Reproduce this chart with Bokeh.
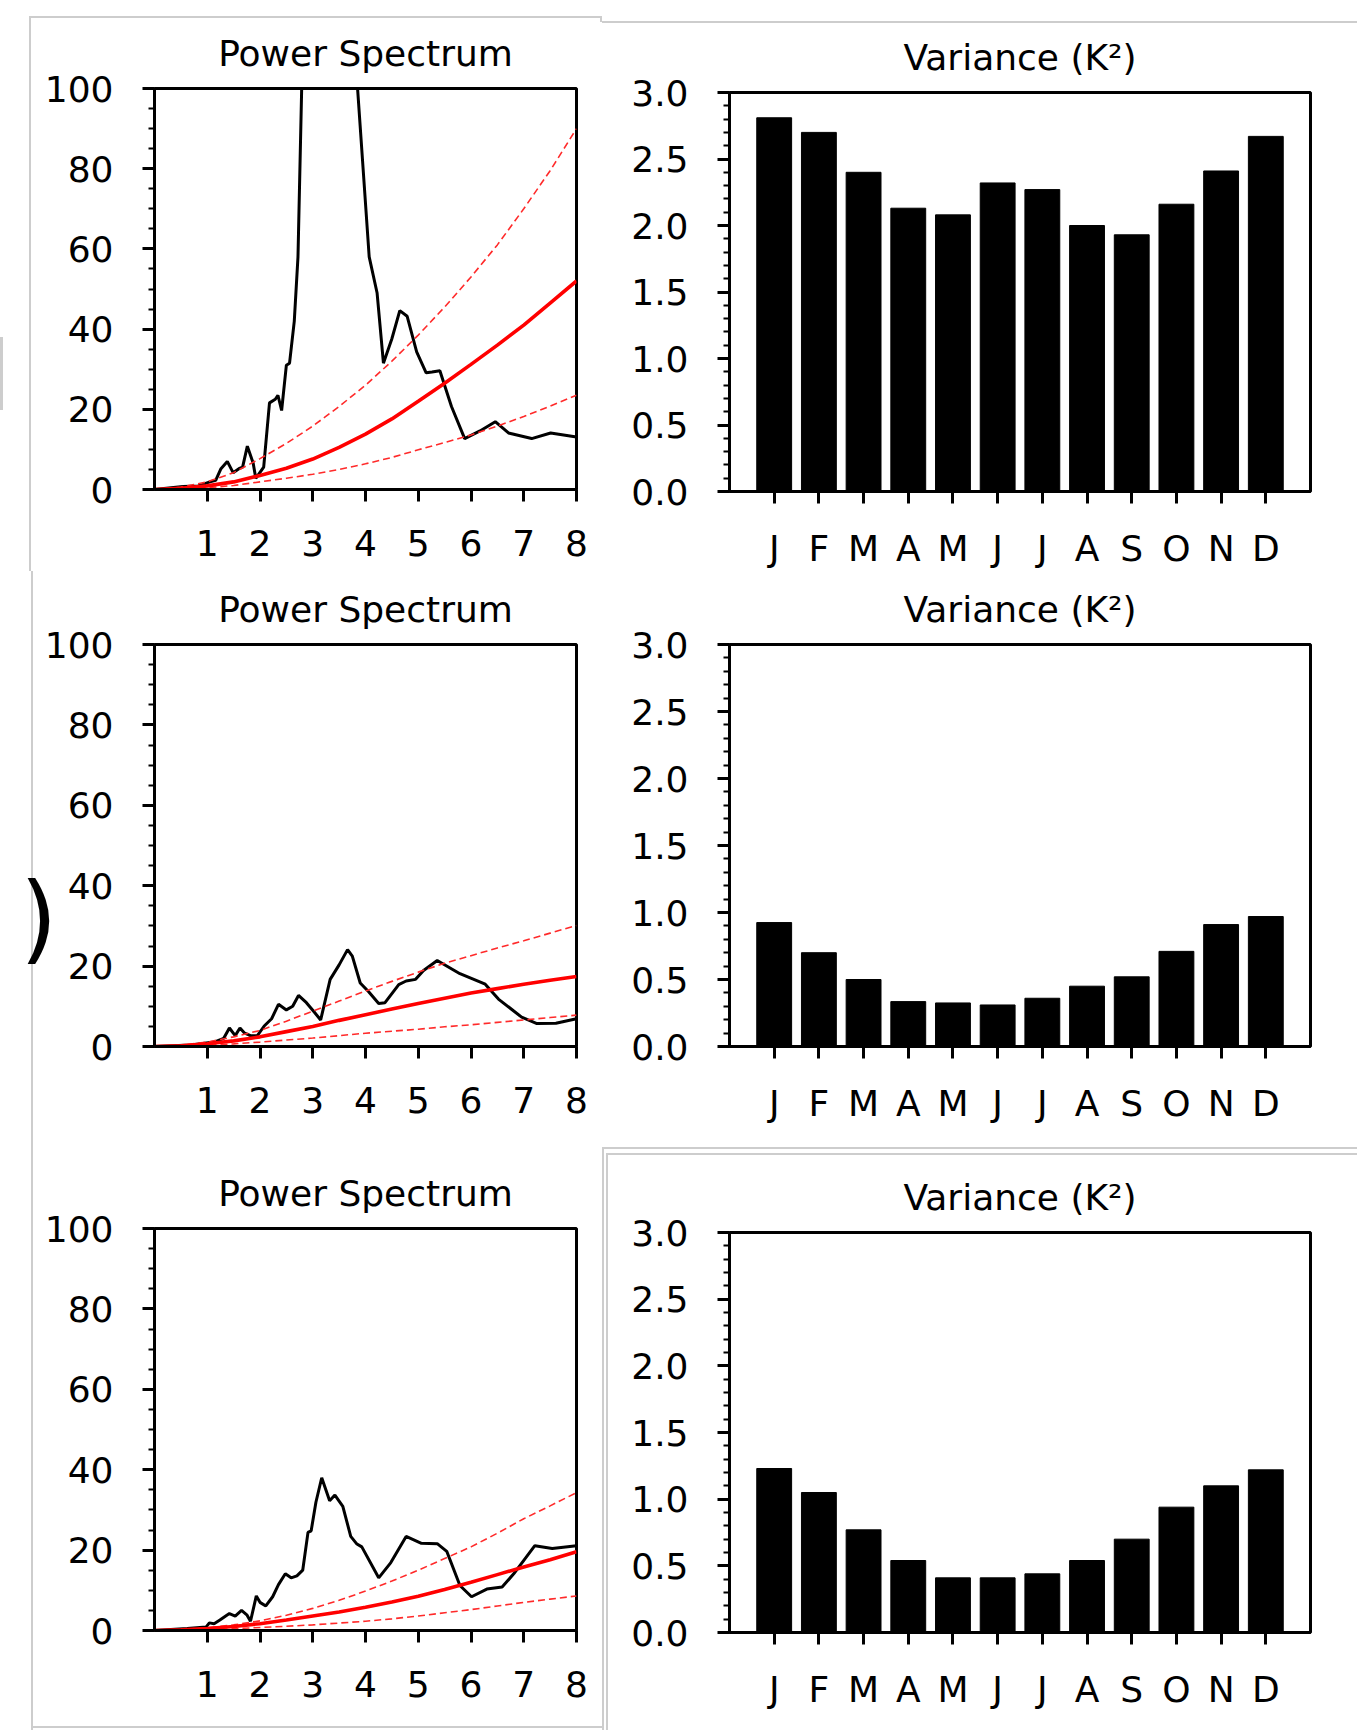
from bokeh.plotting import figure
from bokeh.layouts import column, row
from bokeh.models import Range1d, FixedTicker, NumeralTickFormatter, LinearAxis
from bokeh.embed import file_html
from bokeh.resources import INLINE

FONT = "DejaVu Sans"

# ---------------- data ----------------
months = ["J", "F", "M", "A", "M", "J", "J", "A", "S", "O", "N", "D"]
month_pos = [1, 2, 3, 4, 5, 6, 7, 8, 9, 10, 11, 12]
var_top = [2.81, 2.70, 2.40, 2.13, 2.08, 2.32, 2.27, 2.00, 1.93, 2.16, 2.41, 2.67]
var_mid = [0.925, 0.70, 0.50, 0.335, 0.325, 0.31, 0.36, 0.45, 0.52, 0.71, 0.91, 0.97]
var_bot = [1.23, 1.05, 0.77, 0.54, 0.41, 0.41, 0.44, 0.54, 0.70, 0.94, 1.10, 1.22]

# red-noise reference curves (x positions shared)
curve_x = [0, 0.5, 1, 1.5, 2, 2.5, 3, 3.5, 4, 4.5, 5, 5.5, 6, 6.5, 7, 7.5, 8]
mid_top = [0, 0.3, 0.9, 1.9, 3.5, 5.3, 7.6, 10.5, 13.8, 17.6, 22.0, 26.5, 31.2, 36.0, 41.0, 46.5, 52.0]
up_top = [0, 0.6, 1.9, 4.2, 7.7, 11.5, 15.8, 20.7, 26.0, 32.0, 38.5, 45.5, 53.0, 61.0, 70.0, 79.5, 90.0]
lo_top = [0, 0.15, 0.45, 1.0, 1.9, 2.8, 3.8, 5.0, 6.4, 8.0, 9.9, 11.7, 13.6, 15.8, 18.2, 20.8, 23.5]

mid_mid = [0, 0.2, 0.7, 1.4, 2.4, 3.7, 5.0, 6.5, 7.9, 9.3, 10.7, 12.0, 13.3, 14.4, 15.5, 16.5, 17.4]
up_mid = [0, 0.3, 1.1, 2.4, 4.0, 6.3, 8.8, 11.3, 13.8, 16.2, 18.5, 20.7, 22.6, 24.5, 26.3, 28.2, 30.1]
lo_mid = [0, 0.1, 0.3, 0.65, 1.1, 1.6, 2.1, 2.7, 3.3, 3.8, 4.3, 4.9, 5.4, 6.0, 6.6, 7.2, 7.8]

mid_bot = [0, 0.15, 0.5, 1.0, 1.7, 2.6, 3.6, 4.6, 5.8, 7.1, 8.5, 10.2, 12.0, 13.9, 15.8, 17.6, 19.6]
up_bot = [0, 0.2, 0.7, 1.4, 2.4, 3.8, 5.5, 7.5, 9.8, 12.3, 15.0, 17.9, 20.8, 24.2, 27.8, 31.0, 34.3]
lo_bot = [0, 0.05, 0.2, 0.45, 0.75, 1.05, 1.4, 1.85, 2.3, 2.9, 3.6, 4.4, 5.2, 6.1, 7.0, 7.8, 8.6]

# power spectra (black)
spec_top_x = [0, 0.54, 0.83, 1.05, 1.16, 1.26, 1.38, 1.49, 1.60, 1.67, 1.76, 1.87, 1.92, 2.07, 2.18,
              2.29, 2.34, 2.41, 2.50, 2.56, 2.65, 2.72, 2.85, 3.3, 3.75, 4.07, 4.22, 4.34, 4.50,
              4.65, 4.79, 4.97, 5.15, 5.26, 5.41, 5.63, 5.88, 6.17, 6.46, 6.71, 7.15, 7.51, 8.0]
spec_top_y = [0, 0.75, 0.9, 1.9, 2.3, 5.2, 7.0, 4.2, 5.2, 5.6, 10.8, 6.6, 2.8, 5.6, 21.6,
              22.5, 23.5, 19.7, 31.0, 31.5, 42.0, 58.0, 136.0, 190.0, 119.0, 58.0, 49.0, 31.5, 37.6,
              44.6, 43.2, 34.3, 29.1, 29.3, 29.6, 20.7, 12.7, 14.6, 16.9, 14.1, 12.7, 14.1, 13.1]

spec_mid_x = [0, 0.69, 1.13, 1.31, 1.42, 1.53, 1.62, 1.71, 1.82, 1.95, 2.08, 2.22, 2.35, 2.50,
              2.62, 2.73, 2.88, 3.02, 3.15, 3.33, 3.50, 3.66, 3.75, 3.90, 4.06, 4.25, 4.37, 4.63,
              4.77, 4.95, 5.10, 5.36, 5.79, 6.27, 6.52, 6.96, 7.25, 7.61, 8.0]
spec_mid_y = [0, 0.4, 1.1, 2.0, 4.6, 2.7, 4.6, 3.3, 2.7, 2.7, 5.1, 6.9, 10.5, 9.1,
              10.0, 12.7, 10.9, 8.7, 6.6, 16.7, 20.3, 24.1, 22.5, 15.8, 13.6, 10.7, 10.9, 15.4,
              16.3, 16.7, 18.9, 21.4, 18.1, 15.5, 11.8, 7.3, 5.7, 5.8, 6.9]

spec_bot_x = [0, 0.62, 0.98, 1.04, 1.13, 1.24, 1.35, 1.42, 1.53, 1.65, 1.75, 1.82, 1.93, 2.00,
              2.11, 2.24, 2.35, 2.48, 2.59, 2.70, 2.81, 2.91, 2.97, 3.06, 3.17, 3.32, 3.42, 3.57,
              3.72, 3.83, 3.93, 4.25, 4.48, 4.77, 5.06, 5.36, 5.54, 5.79, 6.01, 6.30, 6.59, 6.81,
              7.21, 7.54, 8.0]
spec_bot_y = [0, 0.5, 0.9, 1.9, 1.7, 2.6, 3.6, 4.2, 3.6, 5.0, 3.9, 2.3, 8.6, 7.0,
              6.1, 8.4, 11.4, 14.1, 13.1, 13.6, 15.0, 24.4, 24.8, 31.9, 38.0, 32.3, 33.7, 30.9,
              23.4, 21.6, 20.8, 13.1, 16.9, 23.4, 21.7, 21.6, 19.7, 11.2, 8.4, 10.3, 10.8, 14.1,
              21.1, 20.4, 21.1]

spec_ticks = [1, 2, 3, 4, 5, 6, 7, 8]
spec_yticks = [0, 20, 40, 60, 80, 100]
var_yticks = [0.0, 0.5, 1.0, 1.5, 2.0, 2.5, 3.0]

GRAY = "#cdcdcd"


def css_lines(segs):
    """light gray panel-border lines of the original composite, as CSS background layers"""
    layers = []
    for (x, y, w, h) in segs:
        layers.append(f"linear-gradient({GRAY}, {GRAY}) {x}px {y}px / {w}px {h}px no-repeat")
    return {"background": ", ".join(layers)}


def style_axes(p, x_standoff):
    for ax in (p.xaxis[0], p.yaxis[0]):
        ax.axis_line_width = 3
        ax.axis_line_color = "black"
        ax.major_tick_line_width = 3
        ax.minor_tick_line_width = 2
        ax.major_tick_in = 0
        ax.major_tick_out = 12
        ax.minor_tick_in = 0
        ax.minor_tick_out = 6
        ax.major_label_text_font = FONT
        ax.major_label_text_font_size = "36px"
        ax.major_label_text_color = "black"
    p.xaxis[0].major_label_standoff = x_standoff
    p.yaxis[0].major_label_standoff = 29
    p.grid.visible = False
    p.outline_line_color = "black"
    p.outline_line_width = 3
    p.outline_line_alpha = 1.0
    p.title.text_font = FONT
    p.title.text_font_size = "36px"
    p.title.text_font_style = "normal"
    p.title.text_color = "black"
    p.title.align = "center"
    p.title.standoff = 30


def spectrum(sx, sy, mid, up, lo, h, mt, mb):
    p = figure(width=602, height=h, output_backend="svg", toolbar_location=None,
               title="Power Spectrum",
               x_range=Range1d(0, 8), y_range=Range1d(0, 100),
               min_border_left=154, min_border_right=26,
               min_border_top=mt, min_border_bottom=mb,
               background_fill_color="white", border_fill_color=None)
    p.xaxis[0].ticker = FixedTicker(ticks=spec_ticks, minor_ticks=[])
    p.yaxis[0].ticker = FixedTicker(ticks=spec_yticks,
                                    minor_ticks=[v for v in range(0, 101, 5) if v % 20])
    p.line(sx, sy, line_color="black", line_width=3)
    p.line(curve_x, up, line_color="#ff2a2a", line_width=1.6, line_dash="7 4")
    p.line(curve_x, lo, line_color="#ff2a2a", line_width=1.6, line_dash="7 4")
    p.line(curve_x, mid, line_color="#ff0000", line_width=3.6)
    style_axes(p, 28)
    return p


def variance(vals, h, mt, mb):
    p = figure(width=755, height=h, output_backend="svg", toolbar_location=None,
               title="Variance (K\u00b2)",
               x_range=Range1d(0, 13), y_range=Range1d(0, 3),
               min_border_left=127, min_border_right=47,
               min_border_top=mt, min_border_bottom=mb,
               background_fill_color="white", border_fill_color=None)
    p.vbar(x=month_pos, top=vals, width=0.78, fill_color="black", line_color="black")
    p.xaxis[0].ticker = FixedTicker(ticks=month_pos, minor_ticks=[])
    p.xaxis[0].major_label_overrides = {m: lab for m, lab in zip(month_pos, months)}
    p.yaxis[0].ticker = FixedTicker(ticks=var_yticks,
                                    minor_ticks=[i / 10 for i in range(0, 31) if i % 5])
    p.yaxis[0].formatter = NumeralTickFormatter(format="0.0")
    style_axes(p, 24)
    return p


pA = spectrum(spec_top_x, spec_top_y, mid_top, up_top, lo_top, 571, 88, 82)
pC = spectrum(spec_mid_x, spec_mid_y, mid_mid, up_mid, lo_mid, 574, 73, 99)
pE = spectrum(spec_bot_x, spec_bot_y, mid_bot, up_bot, lo_bot, 585, 83, 100)
pB = variance(var_top, 571, 92, 78)
pD = variance(var_mid, 574, 73, 99)
pF = variance(var_bot, 585, 87, 98)

# fragment ")" of a panel label cut off at the left edge (kept as real text)
pC.extra_y_ranges = {"frag": Range1d(0, 100)}
frag_axis = LinearAxis(y_range_name="frag", ticker=FixedTicker(ticks=[32], minor_ticks=[]),
                       major_label_overrides={32: ")"},
                       axis_line_color=None, major_tick_line_color=None,
                       minor_tick_line_color=None, major_tick_in=0, major_tick_out=0,
                       major_label_standoff=-16, major_label_text_font=FONT,
                       major_label_text_font_size="96px", major_label_text_color="black")
pC.add_layout(frag_axis, "left")

pA.styles = css_lines([(30, 16, 572, 2), (29, 16, 2, 555), (600, 16, 2, 6), (0, 337, 3, 73)])
pB.styles = css_lines([(0, 21, 755, 2)])
pC.styles = css_lines([(31, 0, 2, 574)])
pE.styles = css_lines([(31, 0, 2, 585), (31, 581, 571, 2)])
pF.styles = css_lines([(0, 2, 755, 2), (0, 2, 2, 583), (4, 8, 751, 2), (4, 8, 2, 577)])

layout = row(column(pA, pC, pE), column(pB, pD, pF))

open("out.html", "w").write(file_html(layout, INLINE))
